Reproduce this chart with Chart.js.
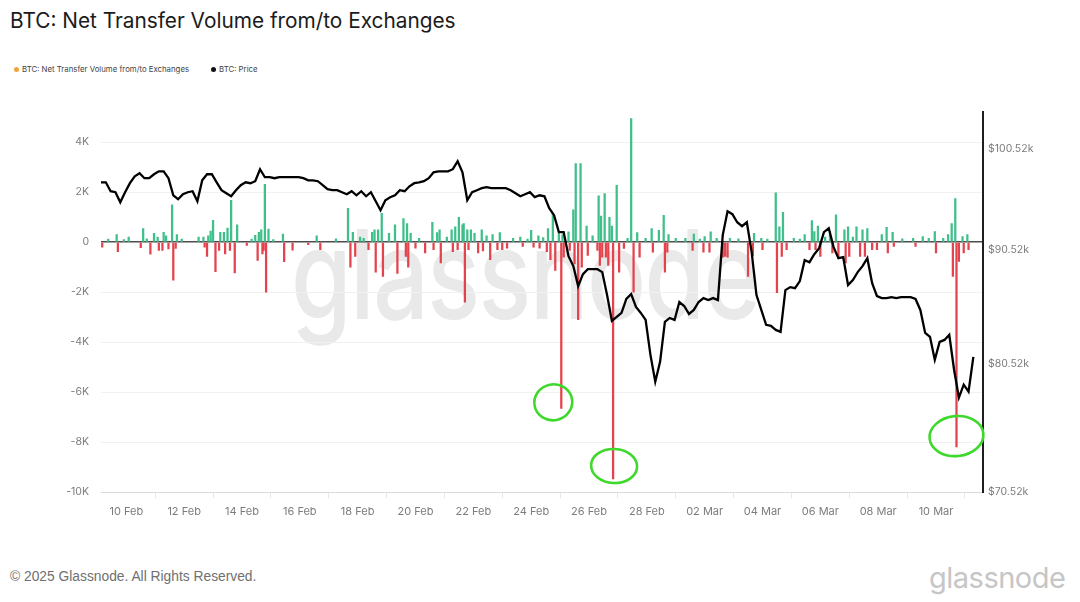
<!DOCTYPE html>
<html>
<head>
<meta charset="utf-8">
<script src="https://cdn.jsdelivr.net/npm/chart.js@4.4.1/dist/chart.umd.min.js"></script>
<style>
  html, body { margin: 0; padding: 0; background: #fff; }
  body { width: 1080px; height: 602px; position: relative; overflow: hidden; font-family: Inter, "Noto Sans", sans-serif; }
  #title { position: absolute; left: 10px; top: 8px; font-size: 20.8px; color: #1b1b1b; white-space: nowrap; }
  .leg { position: absolute; top: 63px; font-size: 7.8px; color: #444; white-space: nowrap; line-height: 12px; }
  .leg i { display: inline-block; width: 5px; height: 5px; border-radius: 50%; margin-right: 3px; vertical-align: 0px; }
  #watermark { position: absolute; left: 291px; top: 199px; font-size: 124px; font-weight: 500; color: #e9e9e9; white-space: nowrap;
               transform: scaleX(0.79); transform-origin: left top; letter-spacing: -2px; }
  #wrap { position: absolute; left: 0; top: 94px; width: 1080px; height: 436px; }
  #copy { position: absolute; left: 10px; top: 569px; font-family: "Liberation Sans", Arial, sans-serif; font-size: 13.8px; color: #707070; }
  #logo { position: absolute; left: 929px; top: 560px; font-size: 29px; color: #c6c6c6; letter-spacing: -0.5px; }
</style>
</head>
<body>
<div id="title">BTC: Net Transfer Volume from/to Exchanges</div>
<div class="leg" style="left:14px"><i style="background:#f2a23a"></i>BTC: Net Transfer Volume from/to Exchanges</div>
<div class="leg" style="left:211px"><i style="background:#111"></i>BTC: Price</div>
<div id="watermark">glassnode</div>
<div id="wrap"><canvas id="chart" width="1080" height="436"></canvas></div>
<div id="copy">© 2025 Glassnode. All Rights Reserved.</div>
<div id="logo">glassnode</div>

<script>
// hours are counted from 9 Feb 2025 00:00 UTC
const xTickHours = [24, 72, 120, 168, 216, 264, 312, 360, 408, 456, 504, 552, 600, 648, 696];
const xTickLabels = ["10 Feb", "12 Feb", "14 Feb", "16 Feb", "18 Feb", "20 Feb", "22 Feb", "24 Feb",
                     "26 Feb", "28 Feb", "02 Mar", "04 Mar", "06 Mar", "08 Mar", "10 Mar"];

const flowTicks = [-10000, -8000, -6000, -4000, -2000, 0, 2000, 4000];
const flowTickLabels = ["-10K", "-8K", "-6K", "-4K", "-2K", "0", "2K", "4K"];

const priceTicks = [70520, 80520, 90520, 100520];
const priceTickLabels = ["$70.52k", "$80.52k", "$90.52k", "$100.52k"];

// BTC price, one reading every 4 hours starting 9 Feb 03:00
const priceStartHour = 3;
const priceStepHours = 4;
const prices = [
  97070, 97070, 96180, 96080, 95090, 96080, 96980, 97680, 97980, 97480,
  97480, 97880, 98180, 98180, 97480, 95780, 95390, 95880, 96080, 96180,
  95190, 97270, 97880, 97880, 97070, 96280, 95980, 95680, 96280, 96780,
  97070, 96980, 97180, 98390, 97580, 97580, 97480, 97580, 97580, 97580,
  97580, 97580, 97480, 97270, 97270, 97180, 96780, 96380, 96280, 96280,
  96080, 95880, 96180, 95780, 96180, 95680, 96080, 95190, 94310, 95290,
  95590, 95780, 96280, 96180, 96670, 96980, 97070, 97180, 97480, 98080,
  98180, 98180, 98180, 98390, 99200, 98080, 95290, 96080, 96280, 96480,
  96580, 96480, 96480, 96480, 96480, 96280, 95980, 95680, 95880, 96080,
  95590, 95780, 95680, 94510, 93830, 92200, 92200, 89950, 89030, 87210,
  88300, 88750, 88750, 88750, 88480, 86410, 84130, 84480, 84830, 86060,
  86500, 85350, 84830, 84220, 81240, 79020, 80660, 84050, 84390, 84220,
  85790, 85440, 84740, 85090, 85790, 86140, 85960, 86140, 85960, 91920,
  94210, 93930, 93150, 92770, 93150, 90320, 86410, 85090, 83790, 83700,
  83360, 83190, 86850, 87120, 87030, 87660, 89580, 89390, 90130, 90690,
  92200, 92580, 90790, 89760, 89850, 87300, 87750, 88480, 89030, 89760,
  87480, 86320, 86140, 86140, 86230, 86140, 86230, 86230, 86230, 86060,
  85090, 83100, 82760, 80830, 82330, 82500, 82930, 80000, 77730, 78780,
  78210, 81070
];

// net transfer volume (BTC), hour of each visible bar and its value
const barHours = [
    4,   9,  16,  17,  22,  26,  36,  38,  41,  44,
   47,  50,  51,  54,  55,  57,  59,  62,  63,  65,
   66,  70,  84,  88,  89,  91,  92,  94,  96,  98,
  101, 102, 105, 106, 108, 110, 111, 114, 116, 124,
  128, 131, 133, 134, 136, 137, 138, 139, 140, 142,
  146, 154, 155, 162, 175, 182, 185, 198, 208, 210,
  212, 214, 218, 221, 225, 228, 230, 231, 233, 236,
  237, 242, 247, 249, 254, 256, 257, 258, 260, 264,
  267, 272, 278, 279, 282, 284, 285, 290, 294, 295,
  297, 299, 300, 303, 304, 305, 307, 308, 310, 313,
  316, 319, 320, 323, 326, 328, 332, 334, 336, 340,
  345, 351, 353, 357, 360, 362, 366, 367, 370, 373,
  374, 376, 378, 380, 383, 385, 386, 387, 391, 392,
  395, 396, 397, 399, 401, 402, 406, 407, 411, 415,
  416, 417, 418, 419, 421, 422, 424, 425, 427, 428,
  431, 433, 437, 440, 443, 445, 448, 450, 455, 460,
  461, 466, 470, 471, 473, 474, 480, 488, 494, 495,
  500, 503, 504, 508, 509, 514, 519, 521, 523, 525,
  532, 540, 544, 545, 551, 552, 556, 563, 564, 566,
  568, 569, 572, 578, 583, 587, 591, 593, 595, 596,
  598, 600, 604, 608, 610, 613, 615, 620, 621, 623,
  624, 627, 630, 633, 635, 637, 639, 643, 647, 651,
  655, 656, 660, 661, 668, 677, 679, 685, 690, 695,
  696, 702, 706, 709, 710, 712, 713, 715, 718, 719,
  722, 723
];
const barFlows = [
   -200,   120,   300,  -380,   100,   200,  -220,   550,   130,  -480,
    350,   200,  -330,  -330,   400,   250,  -270,  1500, -1520,  -250,
    300,   120,   200,   200,  -200,  -570,   250,   450,   880, -1180,
   -330,   400,   400,  -470,   570,  -330,  1680, -1230,   700,  -130,
    120,   270,  -730,   400,   500,  -470,  -330,  2320, -2000,   530,
    100,   320,  -780,  -320,  -100,   250,  -300,   130,  1360, -1000,
    400,  -570,   200,   150,  -300,   400,   500, -1200,   500,  1160,
  -1370,   350,   700, -1250,   950,  -570,   750, -1000,   350,  -240,
    150,  -430,   800,  -300,   380,   500,  -830,   200,   500,  -380,
    620,  -300,  1000,   700,   750, -2400,   500,  -300,   500,   350,
   -430,   500,  -350,   250,  -700,   300,  -300,   380,  -300,  -240,
    150,   200,  -170,   120,   480,  -200,   250,  -240,   180,  -380,
    550,  -700,  1150, -1130,   350, -6650,   300,  -600,   420,  -330,
   1300,  -870,  3150, -3100,  3150, -1000,   650,  -530,   250,  -330,
   1860,  -930,  1050,  -600,  1950,  -600,  -930,  1000,   650, -9480,
   2280, -1200,  -250,   150,  4950, -2000,   380,  -600,   150,   550,
   -400,   480,  1080, -1200,  -400,   300,   150,   150,  -330,   320,
    120,  -400,   220,  -400,   420,   150,  -600,  -570,  -600,   150,
    130, -1370,  -550,   350,   150,  -300,   120,  1980, -2020,   620,
   -570,  1200,  -300,   150,   120,   300,  -300,   870,   430,  -300,
    650,  -570,   200,   430,  -430,  1100,  -570,   500,  -830,   620,
   -570,   200,   620,  -570,   500,  -570,   550,  -300,  -300,   300,
    600,  -430,   400,  -170,   130,   150,  -170,   220,   150,   430,
   -430,   150,   300,   750, -1370,  1750, -8200,  -770,   220,  -430,
    300,  -300
];

// hand-drawn green circles in the original, anchored on three outflow bars
const circledHours = [385, 428, 713];
const circleShapes = [
  { dx: -8, dy: -6, rx: 19, ry: 18, rot: -0.2 },
  { dx: 1, dy: -13, rx: 23, ry: 17, rot: 0.05 },
  { dx: 0, dy: -11, rx: 27, ry: 20, rot: -0.1 }
];

const GREEN = "#3fbf8a";
const RED = "#e4434d";

const circlePlugin = {
  id: "circles",
  afterDatasetsDraw(chart) {
    const ctx = chart.ctx;
    const xs = chart.scales.x, ys = chart.scales.y;
    ctx.save();
    ctx.strokeStyle = "#3fd82c";
    ctx.lineWidth = 2.6;
    circledHours.forEach((h, i) => {
      const v = barFlows[barHours.indexOf(h)];
      const s = circleShapes[i];
      const px = xs.getPixelForValue(h) + s.dx;
      const py = ys.getPixelForValue(v) + s.dy;
      ctx.beginPath();
      ctx.ellipse(px, py, s.rx, s.ry, s.rot, 0, Math.PI * 2);
      ctx.stroke();
    });
    ctx.restore();
  }
};

Chart.defaults.font.family = 'Inter, "Open Sans", sans-serif';
Chart.defaults.font.size = 10.5;
Chart.defaults.color = "#7c7c7c";

new Chart(document.getElementById("chart"), {
  type: "bar",
  data: {
    datasets: [
      {
        type: "line",
        label: "BTC: Price",
        data: prices.map((p, i) => ({ x: priceStartHour + i * priceStepHours, y: p })),
        borderColor: "#000",
        borderWidth: 2.3,
        pointRadius: 0,
        tension: 0,
        yAxisID: "yPrice",
        order: 1
      },
      {
        type: "bar",
        label: "BTC: Net Transfer Volume from/to Exchanges",
        data: barHours.map((h, i) => ({ x: h, y: barFlows[i] })),
        backgroundColor: barFlows.map(v => v >= 0 ? GREEN : RED),
        barThickness: 1.6,
        grouped: false,
        yAxisID: "y",
        order: 2
      }
    ]
  },
  options: {
    responsive: false,
    animation: false,
    layout: { padding: { top: 7, left: 0, right: 0, bottom: 0 } },
    plugins: { legend: { display: false }, tooltip: { enabled: false } },
    scales: {
      x: {
        type: "linear",
        min: 3,
        max: 735,
        offset: false,
        afterFit: s => { s.height = 38; },
        afterBuildTicks: s => { s.ticks = xTickHours.map(v => ({ value: v })); },
        ticks: {
          autoSkip: false,
          maxRotation: 0,
          padding: 7,
          font: { size: 11 },
          callback: (v, i) => xTickLabels[i]
        },
        grid: { drawOnChartArea: false, drawTicks: true, tickLength: 6, color: "#e6e6e6" },
        border: { display: true, color: "#dadada" }
      },
      y: {
        position: "left",
        min: -10000,
        max: 5200,
        afterFit: s => { s.width = 101; },
        afterBuildTicks: s => { s.ticks = flowTicks.map(v => ({ value: v })); },
        ticks: { padding: 12, callback: (v, i) => flowTickLabels[i] },
        grid: {
          drawTicks: false,
          color: c => c.tick && c.tick.value === 0 ? "#4d4d4d" : "#f1f1f1",
          lineWidth: c => c.tick && c.tick.value === 0 ? 1.6 : 1
        },
        border: { display: false }
      },
      yPrice: {
        type: "logarithmic",
        position: "right",
        min: 70520,
        max: 104340,
        afterFit: s => { s.width = 97; },
        afterBuildTicks: s => { s.ticks = priceTicks.map(v => ({ value: v })); },
        ticks: { padding: 5, callback: (v, i) => priceTickLabels[i] },
        grid: { drawOnChartArea: false, drawTicks: false },
        border: { display: true, color: "#1e1e1e", width: 2 }
      }
    }
  },
  plugins: [circlePlugin]
});
</script>
</body>
</html>
